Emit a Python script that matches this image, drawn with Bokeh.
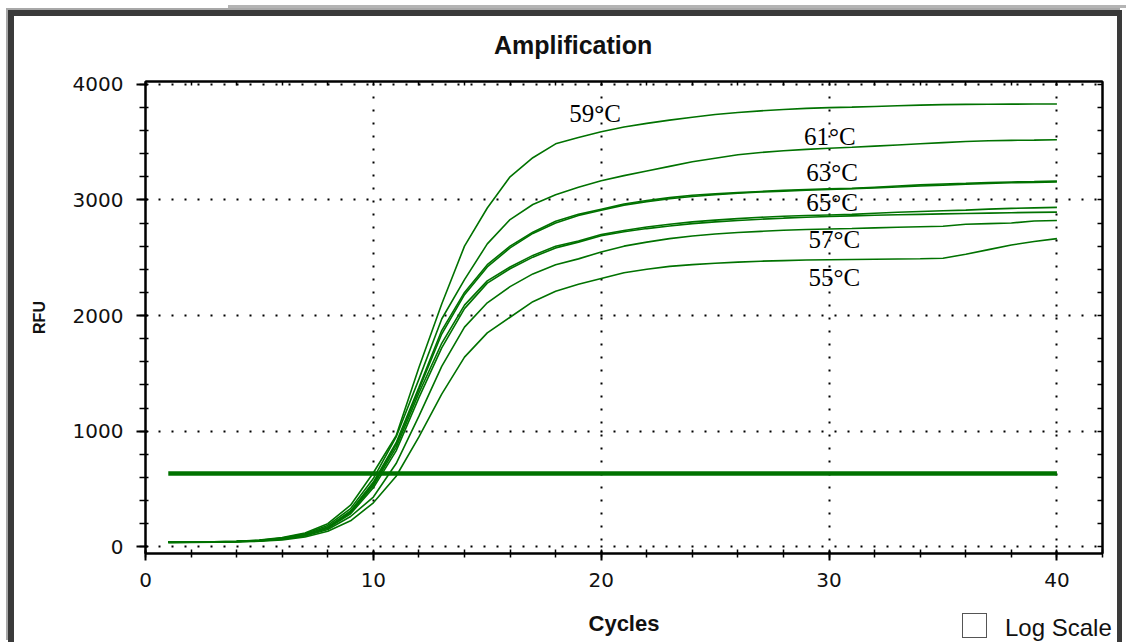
from bokeh.plotting import figure
from bokeh.models import (LinearAxis, SingleIntervalTicker, FixedTicker, Range1d,
                          ColumnDataSource, Div)
from bokeh.layouts import column
from bokeh.embed import file_html
from bokeh.resources import INLINE
from bokeh.core.properties import value

# ---------------- data ----------------
cycles = list(range(1, 41))

rfu_59 = [40, 42, 44, 48, 58, 80, 120, 200, 360, 640,
          960, 1550, 2100, 2600, 2930, 3200, 3365, 3485, 3540, 3590,
          3630, 3662, 3690, 3715, 3738, 3756, 3770, 3782, 3792, 3798,
          3802, 3808, 3814, 3820, 3824, 3826, 3827, 3828, 3829, 3830]
rfu_61 = [40, 42, 44, 47, 56, 76, 112, 185, 330, 590,
          950, 1450, 1970, 2310, 2620, 2830, 2960, 3045, 3110, 3165,
          3210, 3250, 3290, 3330, 3360, 3390, 3410, 3425, 3437, 3447,
          3455, 3465, 3475, 3485, 3495, 3505, 3512, 3515, 3517, 3520]
rfu_63a = [40, 41, 43, 46, 54, 72, 105, 172, 310, 560,
           900, 1380, 1870, 2200, 2440, 2600, 2720, 2815, 2875, 2920,
           2965, 2995, 3020, 3040, 3052, 3063, 3073, 3082, 3090, 3095,
           3100, 3110, 3120, 3130, 3137, 3143, 3150, 3155, 3158, 3162]
rfu_63b = [39, 41, 43, 46, 53, 70, 102, 168, 300, 545,
           885, 1360, 1840, 2180, 2420, 2585, 2710, 2800, 2865, 2910,
           2955, 2985, 3010, 3030, 3045, 3058, 3068, 3076, 3083, 3090,
           3096, 3104, 3112, 3120, 3128, 3136, 3143, 3148, 3152, 3155]
rfu_65a = [40, 41, 43, 46, 53, 70, 100, 165, 295, 530,
           860, 1330, 1760, 2090, 2300, 2420, 2520, 2600, 2645, 2700,
           2735, 2765, 2790, 2810, 2825, 2838, 2850, 2858, 2865, 2870,
           2875, 2885, 2893, 2900, 2906, 2912, 2920, 2927, 2931, 2935]
rfu_65b = [39, 40, 42, 45, 52, 68, 98, 160, 285, 510,
           830, 1290, 1720, 2060, 2280, 2405, 2505, 2585, 2635, 2690,
           2725, 2752, 2775, 2795, 2810, 2822, 2833, 2842, 2850, 2857,
           2862, 2867, 2871, 2875, 2879, 2883, 2886, 2889, 2892, 2894]
rfu_57 = [38, 40, 42, 45, 51, 66, 94, 150, 262, 430,
          720, 1130, 1560, 1900, 2110, 2250, 2360, 2440, 2490, 2550,
          2600, 2635, 2665, 2688, 2705, 2718, 2728, 2737, 2744, 2749,
          2753, 2758, 2763, 2768, 2772, 2790, 2795, 2800, 2818, 2822]
rfu_55 = [36, 38, 40, 43, 48, 60, 85, 135, 225, 380,
          610, 950, 1320, 1640, 1850, 1985, 2120, 2210, 2270, 2320,
          2370, 2400, 2425, 2440, 2452, 2462, 2470, 2475, 2480, 2483,
          2485, 2487, 2489, 2491, 2495, 2530, 2570, 2610, 2640, 2665]

series = [rfu_59, rfu_61, rfu_63a, rfu_63b, rfu_65a, rfu_65b, rfu_57, rfu_55]
threshold = 634

label_text = ["59\u00b0C", "61\u00b0C", "63\u00b0C", "65\u00b0C", "57\u00b0C", "55\u00b0C"]
label_x = [18.6, 28.9, 29.0, 29.0, 29.1, 29.1]
label_y = [3750, 3549, 3237, 2974, 2654, 2330]

title_text = "Amplification"
x_title = "Cycles"
y_title = "RFU"

x_ticks_interval = 10
y_ticks_interval = 1000
x_minor_step = 2
y_minor_step = 200
x_max_tick = 40
y_max_tick = 4000

# ---------------- figure ----------------
GREEN = "#007200"
p = figure(width=1103, height=626, output_backend="svg", toolbar_location=None,
           x_range=Range1d(0, 42), y_range=Range1d(-58, 4024),
           min_border_left=131, min_border_right=15,
           min_border_top=65, min_border_bottom=89,
           background_fill_color="white", border_fill_color="white")

p.outline_line_color = "black"
p.outline_line_width = 2

xt = SingleIntervalTicker(interval=x_ticks_interval, num_minor_ticks=5)
yt = SingleIntervalTicker(interval=y_ticks_interval, num_minor_ticks=5)

xa = p.xaxis[0]
ya = p.yaxis[0]
xa.ticker = xt
ya.ticker = yt
for ax in (xa, ya):
    ax.axis_line_color = "black"
    ax.axis_line_width = 2
    ax.major_tick_line_color = "black"
    ax.minor_tick_line_color = "black"
    ax.major_tick_line_width = 2
    ax.minor_tick_line_width = 1.5
    ax.major_label_text_font = "DejaVu Sans"
    ax.major_label_text_font_size = "20px"
    ax.major_label_text_color = "#111111"
    ax.axis_label_text_font = "Liberation Sans"
    ax.axis_label_text_font_style = "bold"
    ax.axis_label_text_color = "#111111"

ya.major_tick_out = 9
ya.major_tick_in = 2
ya.minor_tick_out = 6
ya.minor_tick_in = 3
ya.major_label_standoff = 13
ya.axis_label = y_title
ya.axis_label_text_font_size = "16px"
ya.axis_label_standoff = 22

xa.major_tick_out = 7
xa.major_tick_in = 3
xa.minor_tick_out = 4
xa.minor_tick_in = 4
xa.major_label_standoff = 12
xa.axis_label = x_title
xa.axis_label_text_font_size = "22px"
xa.axis_label_standoff = 21

# inner ticks on right and top (tick marks only, no labels)
r_ticker = FixedTicker(ticks=[], minor_ticks=list(range(0, y_max_tick + 1, y_minor_step)))
t_ticker = FixedTicker(ticks=[], minor_ticks=list(range(0, x_max_tick + 1, x_minor_step)))
ra = LinearAxis(ticker=r_ticker, minor_tick_in=5, minor_tick_out=0,
                major_tick_in=0, major_tick_out=0, major_label_standoff=0,
                axis_line_color="black", axis_line_width=2,
                minor_tick_line_color="black", minor_tick_line_width=1.5)
ta = LinearAxis(ticker=t_ticker, minor_tick_in=4, minor_tick_out=0,
                major_tick_in=0, major_tick_out=0, major_label_standoff=0,
                axis_line_color="black", axis_line_width=2,
                minor_tick_line_color="black", minor_tick_line_width=1.5)
p.add_layout(ra, "right")
p.add_layout(ta, "above")

for g in (p.xgrid[0], p.ygrid[0]):
    g.grid_line_color = "black"
    g.grid_line_width = 2
    g.grid_line_dash = "2 11"

# threshold line
p.line(x=[cycles[0], cycles[-1]], y=[threshold, threshold], line_color=GREEN, line_width=4.5)

# amplification curves
for s in series:
    p.line(x=cycles, y=s, line_color=GREEN, line_width=1.6)

# temperature labels
src = ColumnDataSource(dict(x=label_x, y=label_y, t=label_text))
p.text(x="x", y="y", text="t", source=src, text_font=value("Liberation Serif"),
       text_font_size="25px", text_baseline="middle", text_align="left", text_color="black")

# window title, "Log Scale" checkbox and top line of the window
title_div = Div(
    text=('<div style="position:relative;width:200px;height:30px;white-space:nowrap;">'
          '<div style="position:absolute;left:0;top:0;height:30px;line-height:30px;'
          'font-family:\'Liberation Sans\';font-weight:bold;font-size:25px;color:#111;">'
          + title_text + '</div></div>'),
    margin=(0, 0, 0, 0),
    styles={"position": "absolute", "left": "480px", "top": "14px"})
logscale = Div(
    text=('<div style="position:relative;width:170px;height:30px;white-space:nowrap;">'
          '<div style="position:absolute;left:0;top:0;width:25px;height:25px;'
          'border:1.5px solid #555;background:#fff;"></div>'
          '<div style="position:absolute;left:43px;top:0;height:30px;line-height:30px;'
          'font-family:\'Liberation Sans\';font-size:24px;color:#111;">Log Scale</div></div>'),
    margin=(0, 0, 0, 0),
    styles={"position": "absolute", "left": "948px", "top": "597px"})
topline = Div(
    text=('<div style="position:relative;width:898px;height:30px;">'
          '<div style="position:absolute;left:0;top:0;width:898px;height:3px;'
          'background:#b4b4b4;"></div></div>'),
    margin=(0, 0, 0, 0),
    styles={"position": "absolute", "left": "214px", "top": "-11px"})

root = column(p, title_div, logscale, topline,
              styles={"margin-left": "8px", "margin-top": "10px",
                      "border-left": "6px solid #3a3a3a",
                      "border-top": "6px solid #3a3a3a",
                      "border-right": "5px solid #3a3a3a",
                      "box-shadow": "-2px -2px 0 #a8a8a8",
                      "position": "relative"})

open("out.html", "w").write(file_html(root, INLINE))
